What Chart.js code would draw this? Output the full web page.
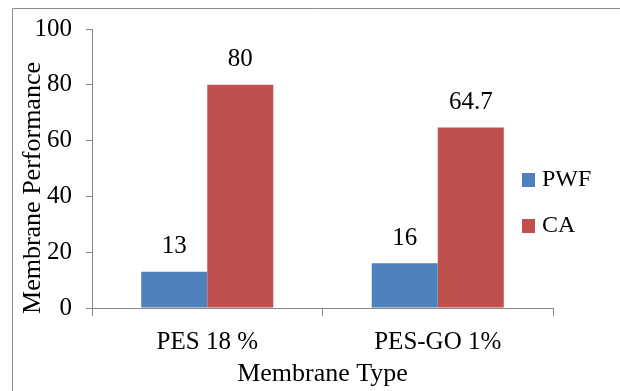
<!DOCTYPE html>
<html>
<head>
<meta charset="utf-8">
<script src="https://cdn.jsdelivr.net/npm/chart.js@4.4.1/dist/chart.umd.min.js"></script>
<style>
  html, body { margin: 0; padding: 0; background: #fff; }
  #wrap { position: relative; width: 620px; height: 391px; }
</style>
</head>
<body>
<div id="wrap"><canvas id="myChart"></canvas></div>
<script>
const categories = ['PES 18 %', 'PES-GO 1%'];
const seriesNames = ['PWF', 'CA'];
const pwfValues = [13, 16];
const caValues = [80, 64.7];
const yTicks = [0, 20, 40, 60, 80, 100];

const serif = "'Liberation Serif', 'Times New Roman', serif";
const axisGray = '#868686';

// outer frame, value labels, legend and y title drawn on the canvas
const extras = {
  id: 'extras',
  beforeDraw(chart) {
    const ctx = chart.ctx;
    ctx.save();
    ctx.strokeStyle = '#8c8c8c';
    ctx.lineWidth = 1;
    ctx.beginPath();
    ctx.moveTo(12.5, 391);
    ctx.lineTo(12.5, 8.5);
    ctx.lineTo(620, 8.5);
    ctx.stroke();
    ctx.restore();
  },
  afterDatasetsDraw(chart) {
    const ctx = chart.ctx;
    ctx.save();
    ctx.fillStyle = '#000';
    ctx.font = '25px ' + serif;
    ctx.textAlign = 'center';
    ctx.textBaseline = 'middle';
    chart.data.datasets.forEach((ds, i) => {
      chart.getDatasetMeta(i).data.forEach((bar, j) => {
        ctx.fillText(String(ds.data[j]), bar.x, bar.y - 25);
      });
    });

    // legend
    ctx.font = '24px ' + serif;
    chart.data.datasets.forEach((ds, i) => {
      const top = 173 + i * 46;
      ctx.fillStyle = ds.backgroundColor;
      ctx.fillRect(522, top, 13, 14);
      ctx.fillStyle = '#000';
      ctx.textAlign = 'left';
      ctx.fillText(ds.label, 542, top + 7);
    });

    // y axis title
    ctx.font = '26px ' + serif;
    ctx.translate(33, 188);
    ctx.rotate(-Math.PI / 2);
    ctx.textAlign = 'center';
    ctx.fillText('Membrane Performance', 0, 0);
    ctx.restore();
  }
};

new Chart(document.getElementById('myChart'), {
  type: 'bar',
  data: {
    labels: categories,
    datasets: [
      { label: seriesNames[0], data: pwfValues, backgroundColor: '#4F81BD' },
      { label: seriesNames[1], data: caValues, backgroundColor: '#C0504D' }
    ]
  },
  options: {
    responsive: true,
    maintainAspectRatio: false,
    animation: false,
    layout: { padding: { top: 29, right: 67, bottom: 0, left: 0 } },
    datasets: { bar: { barPercentage: 1, categoryPercentage: 0.573 } },
    plugins: { legend: { display: false }, tooltip: { enabled: false } },
    scales: {
      x: {
        afterFit(scale) { scale.height = 83; },
        grid: { display: true, drawOnChartArea: false, offset: true, tickLength: 8, color: axisGray },
        border: { color: axisGray },
        ticks: { color: '#000', font: { family: serif, size: 25 }, padding: 11 },
        title: {
          display: true, text: 'Membrane Type', color: '#000',
          font: { family: serif, size: 26 }, padding: { top: 0, bottom: 1 }
        }
      },
      y: {
        min: 0, max: 100,
        afterFit(scale) { scale.width = 92; },
        afterBuildTicks(scale) { scale.ticks = yTicks.map(v => ({ value: v })); },
        grid: { display: true, drawOnChartArea: false, tickLength: 6, color: axisGray },
        border: { color: axisGray },
        ticks: { color: '#000', font: { family: serif, size: 25 }, padding: 14 }
      }
    }
  },
  plugins: [extras]
});
</script>
</body>
</html>
